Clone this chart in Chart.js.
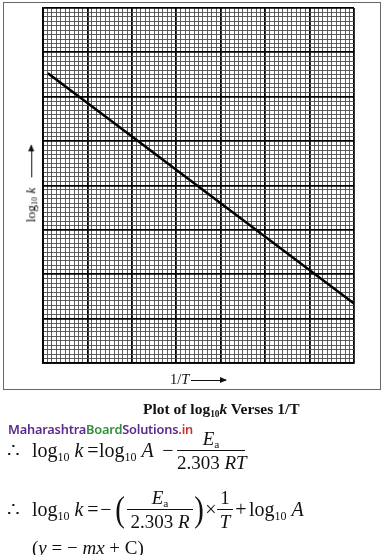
<!DOCTYPE html>
<html>
<head>
<meta charset="utf-8">
<script src="https://cdn.jsdelivr.net/npm/chart.js@4.4.1/dist/chart.umd.min.js"></script>
<style>
  html, body { margin:0; padding:0; background:#fff; }
  body { width:386px; height:555px; position:relative; overflow:hidden; font-family:"Liberation Serif","DejaVu Serif",serif; color:#111; }
  #frame { position:absolute; left:3px; top:2px; width:378px; height:388px; border:1px solid #666; box-sizing:border-box; }
  #wrap { position:absolute; left:0; top:0; width:386px; height:400px; }
  .t { position:absolute; white-space:nowrap; line-height:1; }
  .row { position:absolute; left:0; display:flex; align-items:center; white-space:nowrap; line-height:1; font-size:20px; }
  .row > span { display:inline-block; text-align:center; flex:none; }
  .frac { display:inline-flex !important; flex-direction:column; align-items:stretch; text-align:center; font-size:19px; }
  .frac > span { display:block; }
  .frac .num { border-bottom:1px solid #111; padding-bottom:2px; }
  .frac .den { padding-top:2px; }
  sub { font-size:60%; vertical-align:-0.3em; line-height:0; }
  i { font-style:italic; }
  .arr { display:inline-block; position:relative; height:1px; background:#111; vertical-align:middle; }
  .arr::after { content:""; position:absolute; right:-1px; top:-3px; border-left:7px solid #111; border-top:3.5px solid transparent; border-bottom:3.5px solid transparent; }
</style>
</head>
<body>
<div id="frame"></div>
<div id="wrap"><canvas id="c" width="386" height="400"></canvas></div>

<div class="t" id="ylab" style="left:31px; top:184px; font-size:13.5px; transform:translate(-50%,-50%) rotate(-90deg);">log<sub>10</sub> <i>k</i><span class="arr" style="width:32px; margin-left:10px;"></span></div>
<div class="t" style="left:170px; top:372px; font-size:14.5px;">1/<i>T</i><span class="arr" style="width:35px; margin-left:2px;"></span></div>

<div class="t" style="left:143px; top:401px; font-size:15.5px; font-weight:bold;">Plot of log<sub>10</sub><i>k</i> Verses 1/T</div>

<div class="t" style="left:8px; top:423px; font-family:'Noto Sans',sans-serif; font-size:12.8px; font-weight:600; letter-spacing:-0.2px;"><span style="color:#5b2a8c">Maharashtra</span><span style="color:#2f8f3a">Board</span><span style="color:#5b2a8c">Solutions</span><span style="color:#d0312d">.in</span></div>

<div class="row" style="top:428px; height:44px;">
  <span style="width:7px"></span>
  <span style="width:25px; text-align:left">&#x2234;</span>
  <span style="width:55px; text-align:left">log<sub>10</sub> <i>k</i></span>
  <span style="width:12px">=</span>
  <span style="width:60px; text-align:left">log<sub>10</sub> <i>A</i></span>
  <span style="width:18px">&minus;</span>
  <span class="frac" style="width:68px"><span class="num"><i>E</i><sub>a</sub></span><span class="den">2.303 <i>RT</i></span></span>
</div>

<div class="row" style="top:487px; height:44px;">
  <span style="width:7px"></span>
  <span style="width:25px; text-align:left">&#x2234;</span>
  <span style="width:55px; text-align:left">log<sub>10</sub> <i>k</i></span>
  <span style="width:12px">=</span>
  <span style="width:14px">&minus;</span>
  <span style="width:14px; font-size:36px; transform:scaleX(0.8);">(</span>
  <span class="frac" style="width:66px"><span class="num"><i>E</i><sub>a</sub></span><span class="den">2.303 <i>R</i></span></span>
  <span style="width:12px; font-size:36px; transform:scaleX(0.8);">)</span>
  <span style="width:12px">&times;</span>
  <span class="frac" style="width:16px"><span class="num" style="border:none">1</span><span class="den" style="border-top:1px solid #111;"><i>T</i></span></span>
  <span style="width:16px">+</span>
  <span style="width:66px; text-align:left">log<sub>10</sub> <i>A</i></span>
</div>

<div class="t" style="left:32px; top:538px; font-size:19px;">(<i>y</i> = &minus; <i>mx</i> + C)</div>

<script>
// Axis ranges (graph-paper major divisions)
const xRange = [0, 7];
const yRange = [0, 8];
// Straight line log10 k vs 1/T
const invT = [0.11, 7.0];
const log10k = [6.53, 1.34];

function isMajor(ctx) {
  const v = ctx.tick ? ctx.tick.value : 0;
  return Math.round(v * 10) % 10 === 0;
}

new Chart(document.getElementById('c'), {
  type: 'scatter',
  data: {
    datasets: [{
      data: invT.map((x, i) => ({ x: x, y: log10k[i] })),
      showLine: true,
      borderColor: '#000',
      borderWidth: 2.5,
      pointRadius: 0,
      fill: false
    }]
  },
  options: {
    responsive: false,
    animation: false,
    layout: { padding: { left: 43, top: 8, right: 32, bottom: 37 } },
    plugins: { legend: { display: false }, tooltip: { enabled: false } },
    scales: {
      x: {
        type: 'linear', min: xRange[0], max: xRange[1],
        ticks: { display: false, stepSize: 0.1, maxTicksLimit: 1000 },
        grid: { color: c => isMajor(c) ? '#000' : '#4d4d4d', lineWidth: c => isMajor(c) ? 1.8 : 0.9, drawTicks: false },
        border: { display: true, color: '#000', width: 1.8 },
        afterFit: s => { s.height = 0; }
      },
      y: {
        type: 'linear', min: yRange[0], max: yRange[1],
        ticks: { display: false, stepSize: 0.1, maxTicksLimit: 1000 },
        grid: { color: c => isMajor(c) ? '#000' : '#4d4d4d', lineWidth: c => isMajor(c) ? 1.8 : 0.9, drawTicks: false },
        border: { display: true, color: '#000', width: 1.8 },
        afterFit: s => { s.width = 0; }
      }
    }
  }
});
</script>
</body>
</html>
